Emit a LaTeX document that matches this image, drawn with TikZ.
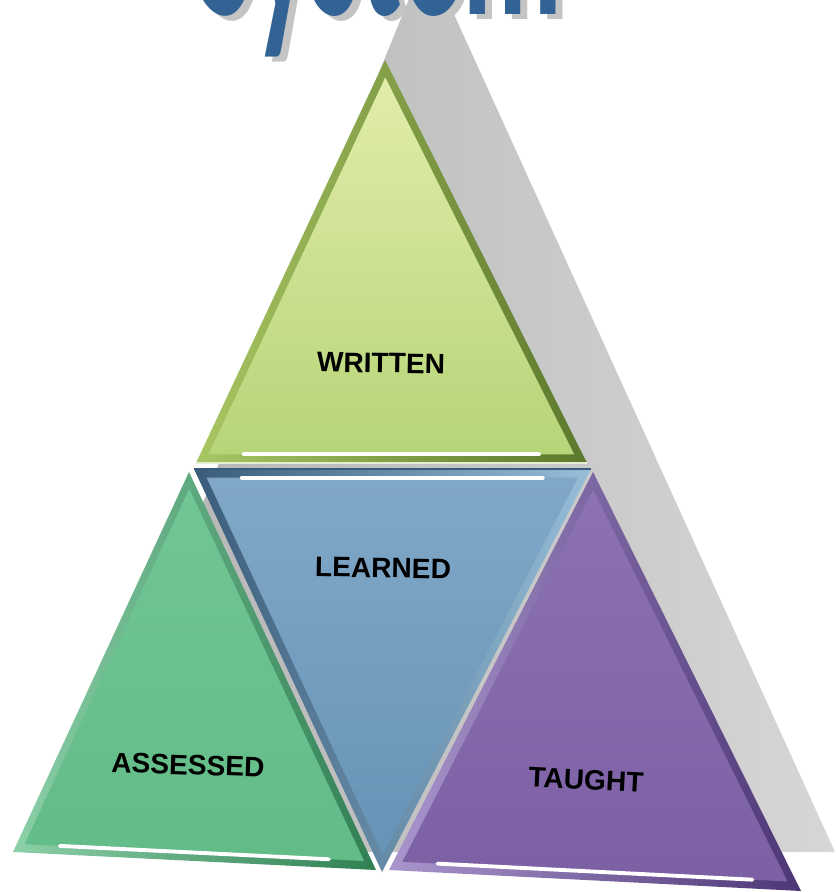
\documentclass[tikz,border=0pt]{standalone}
\usepackage{fontspec}
\setmainfont{Liberation Sans}
\newfontfamily\titlefont{Carlito}
\usetikzlibrary{calc}

\definecolor{titleblue}{RGB}{50,99,148}
\definecolor{titleshade}{RGB}{196,196,196}
\definecolor{shadowdark}{RGB}{178,178,178}
\definecolor{shadowlight}{RGB}{214,214,214}
\definecolor{writtentop}{RGB}{226,236,170}
\definecolor{writtenbottom}{RGB}{182,213,120}
\definecolor{writtenrim}{RGB}{168,198,98}
\definecolor{writtendark}{RGB}{92,120,44}
\definecolor{learnedtop}{RGB}{128,167,200}
\definecolor{learnedbottom}{RGB}{102,148,182}
\definecolor{learnedrim}{RGB}{150,190,216}
\definecolor{learneddark}{RGB}{58,92,122}
\definecolor{assessedtop}{RGB}{112,198,148}
\definecolor{assessedbottom}{RGB}{98,188,136}
\definecolor{assessedrim}{RGB}{140,208,168}
\definecolor{assesseddark}{RGB}{48,128,84}
\definecolor{taughttop}{RGB}{140,114,178}
\definecolor{taughtbottom}{RGB}{124,96,164}
\definecolor{taughtrim}{RGB}{170,150,205}
\definecolor{taughtdark}{RGB}{78,54,118}

\begin{document}
\begin{tikzpicture}[x=0.01cm,y=-0.01cm,
  tritext/.style={font=\bfseries\fontsize{8}{9}\selectfont, text=black},
  titletext/.style={font=\titlefont\bfseries\fontsize{35}{40}\selectfont, anchor=base west, yscale=2.2},
  highlight/.style={white, line width=1.1pt, line cap=round, shorten >=10pt, shorten <=10pt}]
% Frame
\useasboundingbox (0,0) rectangle (835,892);
\clip (0,0) rectangle (835,892);

% Shadow behind the pyramid
\shade[left color=shadowdark, right color=shadowlight] (427,-45) -- (835,852) -- (60,852) -- cycle;

% Title (cut off at the top)
\node[titletext, text=titleshade] (titleshadow) at (192,20) {System};
\node[titletext, text=titleblue] (title) at (185,15) {System};

% Corners of the four parts
\coordinate (wA) at (385,60);
\coordinate (wB) at (196,463);
\coordinate (wC) at (587,463);
\coordinate (lA) at (194,469);
\coordinate (lB) at (591,469);
\coordinate (lC) at (382,872);
\coordinate (aA) at (189,472);
\coordinate (aB) at (13,852);
\coordinate (aC) at (376,870);
\coordinate (tA) at (593,472);
\coordinate (tB) at (389,870);
\coordinate (tC) at (801,891);

\coordinate (wG) at (barycentric cs:wA=1,wB=1,wC=1);
\coordinate (lG) at (barycentric cs:lA=1,lB=1,lC=1);
\coordinate (aG) at (barycentric cs:aA=1,aB=1,aC=1);
\coordinate (tG) at (barycentric cs:tA=1,tB=1,tC=1);

\def\inset{0.065}

% Written
\shade[left color=writtenrim, right color=writtendark] (wA) -- (wB) -- (wC) -- cycle;
\shade[top color=writtentop, bottom color=writtenbottom] ($(wA)!\inset!(wG)$) -- ($(wB)!\inset!(wG)$) -- ($(wC)!\inset!(wG)$) -- cycle;
\draw[highlight] ($(wB)!\inset!(wG)$) -- ($(wC)!\inset!(wG)$);
\draw[white!70!writtenrim, line width=0.8pt] (wB) -- (wC);

% Learned
\shade[left color=learneddark, right color=learnedrim] (lA) -- (lB) -- (lC) -- cycle;
\shade[top color=learnedtop, bottom color=learnedbottom] ($(lA)!\inset!(lG)$) -- ($(lB)!\inset!(lG)$) -- ($(lC)!\inset!(lG)$) -- cycle;
\draw[highlight] ($(lA)!\inset!(lG)$) -- ($(lB)!\inset!(lG)$);
\draw[learneddark, line width=0.8pt] (lA) -- (lB);

% Assessed
\shade[left color=assessedrim, right color=assesseddark] (aA) -- (aB) -- (aC) -- cycle;
\shade[top color=assessedtop, bottom color=assessedbottom] ($(aA)!\inset!(aG)$) -- ($(aB)!\inset!(aG)$) -- ($(aC)!\inset!(aG)$) -- cycle;
\draw[highlight] ($(aB)!\inset!(aG)$) -- ($(aC)!\inset!(aG)$);

% Taught
\shade[left color=taughtrim, right color=taughtdark] (tA) -- (tB) -- (tC) -- cycle;
\shade[top color=taughttop, bottom color=taughtbottom] ($(tA)!\inset!(tG)$) -- ($(tB)!\inset!(tG)$) -- ($(tC)!\inset!(tG)$) -- cycle;
\draw[highlight] ($(tB)!\inset!(tG)$) -- ($(tC)!\inset!(tG)$);

% Labels
\node[tritext, rotate=-1] (written) at (381,363) {WRITTEN};
\node[tritext, rotate=-1] (learned) at (383,568) {LEARNED};
\node[tritext, rotate=-2] (assessed) at (188,765) {ASSESSED};
\node[tritext, rotate=-3] (taught) at (586,780) {TAUGHT};
\end{tikzpicture}
\end{document}
